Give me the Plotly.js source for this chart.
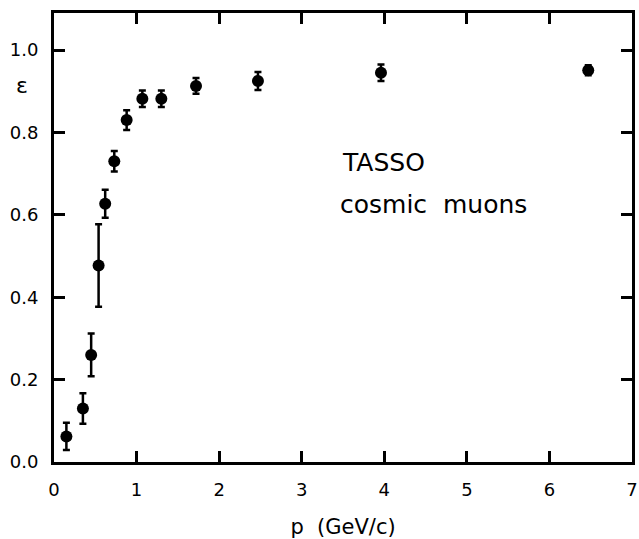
<!DOCTYPE html>
<html>
<head>
<meta charset="utf-8">
<script src="https://cdn.plot.ly/plotly-3.0.1.min.js"></script>
<style>html,body{margin:0;padding:0;background:#fff;}#chart{width:639px;height:539px;}</style>
</head>
<body>
<div id="chart"></div>
<script>
const momentum = [0.15, 0.35, 0.45, 0.54, 0.62, 0.73, 0.88, 1.07, 1.30, 1.72, 2.47, 3.96, 6.47];
const efficiency = [0.062, 0.130, 0.260, 0.477, 0.627, 0.730, 0.830, 0.882, 0.882, 0.913, 0.925, 0.945, 0.951];
const efficiencyErr = [0.033, 0.037, 0.052, 0.100, 0.034, 0.025, 0.024, 0.020, 0.020, 0.019, 0.022, 0.020, 0.012];
const xTicks = [0, 1, 2, 3, 4, 5, 6, 7];
const yTicks = [0.0, 0.2, 0.4, 0.6, 0.8, 1.0];

const font = "DejaVu Sans, sans-serif";

const trace = {
  x: momentum,
  y: efficiency,
  type: 'scatter',
  mode: 'markers',
  marker: {color: '#000', size: 12, symbol: 'circle'},
  error_y: {type: 'data', array: efficiencyErr, visible: true, color: '#000', thickness: 2.5, width: 3.5},
  showlegend: false,
  hoverinfo: 'skip',
  cliponaxis: false
};

const axisCommon = {
  showgrid: false,
  zeroline: false,
  showline: true,
  linecolor: '#000',
  linewidth: 3,
  mirror: 'ticks',
  ticks: 'inside',
  ticklen: 11,
  tickwidth: 3,
  tickcolor: '#000',
  ticklabeloverflow: 'allow',
  tickfont: {family: font, size: 18, color: '#000'}
};

const layout = {
  width: 639,
  height: 539,
  margin: {l: 54, r: 7, t: 13, b: 77},
  paper_bgcolor: '#fff',
  plot_bgcolor: '#fff',
  xaxis: Object.assign({}, axisCommon, {
    range: [0, 7],
    tickvals: xTicks,
    ticktext: xTicks.map(String),
    ticklabelstandoff: 9,
    title: {text: 'p\u00a0\u00a0(GeV/c)', font: {family: font, size: 21, color: '#000'}, standoff: 24}
  }),
  yaxis: Object.assign({}, axisCommon, {
    range: [0, 1.09],
    tickvals: yTicks,
    ticktext: yTicks.map(v => v.toFixed(1)),
    ticklabelstandoff: 9
  }),
  annotations: [
    {xref: 'paper', yref: 'y', x: -0.055, y: 0.915, text: '\u03b5', showarrow: false,
     xanchor: 'center', yanchor: 'middle', font: {family: font, size: 22, color: '#000'}},
    {xref: 'x', yref: 'y', x: 3.46, y: 0.726, text: 'TASSO', showarrow: false,
     xanchor: 'left', yanchor: 'middle', font: {family: font, size: 25, color: '#000'}},
    {xref: 'x', yref: 'y', x: 3.44, y: 0.624, text: 'cosmic\u00a0\u00a0muons', showarrow: false,
     xanchor: 'left', yanchor: 'middle', font: {family: font, size: 25, color: '#000'}}
  ]
};

Plotly.newPlot('chart', [trace], layout, {staticPlot: true, displayModeBar: false});
</script>
</body>
</html>
